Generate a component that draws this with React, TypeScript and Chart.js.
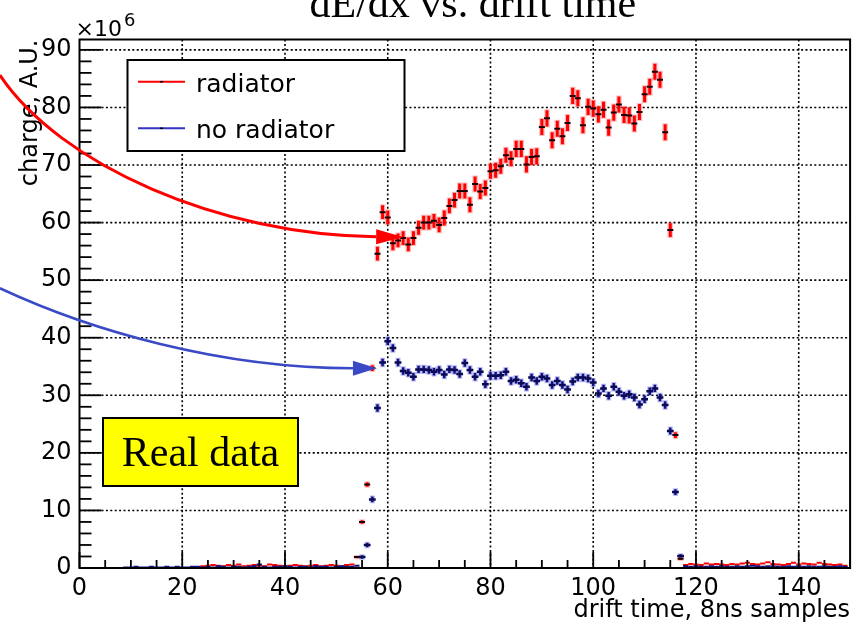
import React, { useEffect, useRef } from "react";
import { Chart, registerables } from "chart.js";

Chart.register(...registerables);

// ---- text ----
const TITLE = "dE/dx vs. drift time";
const X_TITLE = "drift time, 8ns samples";
const Y_TITLE = "charge, A.U.";
const Y_EXPONENT_BASE = "\u00d710";
const Y_EXPONENT = "6";
const BOX_TEXT = "Real data";
const SERIES_NAMES = ["radiator", "no radiator"];

// ---- axes ----
const X_MIN = 0;
const X_MAX = 150;
const Y_MIN = 0;
const Y_MAX = 91.8;
const xTicks = [0, 20, 40, 60, 80, 100, 120, 140];
const yTicks = [0, 10, 20, 30, 40, 50, 60, 70, 80, 90];
const X_MINOR_STEP = 5;
const Y_MINOR_STEP = 2;

// ---- radiator (charge x 10^6 per 8 ns sample) ----
const radiatorLowStart = 24;
const radiatorLow = [
  0.3, 0.4, 0.5, 0.4, 0.3, 0.5, 0.4, 0.6, 0.3, 0.4, 0.5, 0.4, 0.3, 0.6, 0.5,
  0.4, 0.3, 0.4, 0.5, 0.4, 0.3, 0.4, 0.5, 0.3, 0.4, 0.5, 0.4, 0.3, 0.5, 0.6,
];
const radiatorPeakStart = 54;
const radiatorPeak = [
  1.9, 8.0, 14.5, 34.7, 54.6, 61.8, 60.9, 56.4, 56.9, 57.3, 56.2, 57.3, 59.1,
  60.0, 60.0, 60.3, 59.6, 60.8, 62.9, 63.9, 65.5, 65.5, 63.1, 66.7, 65.4, 66.0,
  68.9, 69.1, 69.8, 71.7, 71.1, 72.8, 72.8, 70.1, 71.4, 71.5, 76.6, 78.1, 74.3,
  76.3, 75.0, 77.3, 82.0, 81.6, 76.9, 80.1, 79.8, 78.8, 79.6, 76.5, 79.1, 80.5,
  78.7, 78.6, 77.2, 79.2, 82.3, 83.6, 86.2, 84.8, 75.7, 58.7, 23.1, 1.6,
];
const radiatorPeakErr = [
  0.2, 0.3, 0.4, 0.5, 1.2, 1.2, 1.2, 1.2, 1.2, 1.2, 1.2, 1.2, 1.2, 1.2, 1.2,
  1.2, 1.3, 1.3, 1.3, 1.3, 1.3, 1.3, 1.3, 1.3, 1.3, 1.3, 1.3, 1.3, 1.3, 1.3,
  1.3, 1.4, 1.4, 1.4, 1.4, 1.4, 1.4, 1.4, 1.4, 1.4, 1.4, 1.4, 1.4, 1.4, 1.4,
  1.4, 1.4, 1.4, 1.4, 1.4, 1.4, 1.4, 1.4, 1.4, 1.4, 1.4, 1.4, 1.4, 1.4, 1.4,
  1.4, 1.2, 0.5, 0.2,
];
const radiatorTailStart = 118;
const radiatorTail = [
  0.5, 0.7, 0.6, 0.5, 0.8, 0.6, 0.7, 0.6, 0.5, 0.7, 0.6, 0.8, 0.9, 0.7, 0.6,
  0.8, 1.0, 0.7, 0.6, 0.5, 0.7, 0.9, 0.6, 0.8, 0.7, 0.6, 0.9, 0.7, 0.6, 0.5,
  0.6, 0.4,
];

// ---- no radiator ----
const noRadiatorLowStart = 9;
const noRadiatorLow = [
  0.1, 0.1, 0.2, 0.1, 0.1, 0.2, 0.1, 0.1, 0.2, 0.1, 0.2, 0.1, 0.1, 0.2, 0.2,
  0.1, 0.2, 0.1, 0.3, 0.2, 0.1, 0.2, 0.2, 0.1, 0.2, 0.3, 0.6, 0.2, 0.1, 0.2,
  0.2, 0.3, 0.2, 0.1, 0.2, 0.2, 0.1, 0.3, 0.2, 0.2, 0.1, 0.2, 0.3, 0.2, 0.2,
  0.4,
];
const noRadiatorPeakStart = 55;
const noRadiatorPeak = [
  1.9, 4.0, 11.9, 27.8, 35.7, 39.4, 38.2, 35.7, 34.2, 33.9, 33.2, 34.5, 34.5,
  34.4, 34.1, 34.4, 33.6, 34.5, 34.4, 33.7, 35.6, 34.4, 33.2, 34.1, 31.9, 33.4,
  33.4, 33.5, 34.1, 32.5, 32.7, 32.1, 31.5, 33.1, 32.5, 33.2, 32.9, 31.8, 32.5,
  31.8, 31.0, 32.4, 33.1, 33.1, 32.9, 32.2, 30.3, 31.2, 29.9, 31.5, 30.6, 29.9,
  30.2, 29.6, 28.4, 29.3, 30.7, 31.2, 29.6, 28.3, 23.8, 13.2, 2.1,
];
const noRadiatorPeakErr = [
  0.3, 0.4, 0.5, 0.65, 0.65, 0.65, 0.65, 0.65, 0.65, 0.65, 0.65, 0.65, 0.65,
  0.65, 0.65, 0.65, 0.65, 0.65, 0.65, 0.65, 0.65, 0.65, 0.65, 0.65, 0.65, 0.65,
  0.65, 0.65, 0.65, 0.65, 0.65, 0.65, 0.65, 0.65, 0.65, 0.65, 0.65, 0.65, 0.65,
  0.65, 0.65, 0.65, 0.65, 0.65, 0.65, 0.65, 0.65, 0.65, 0.65, 0.65, 0.65, 0.65,
  0.65, 0.65, 0.65, 0.65, 0.65, 0.65, 0.65, 0.65, 0.6, 0.5, 0.3,
];
const noRadiatorTailStart = 118;
const noRadiatorTail = [
  0.3, 0.2, 0.3, 0.2, 0.2, 0.3, 0.2, 0.3, 0.2, 0.2, 0.3, 0.2, 0.3, 0.4, 0.3,
  0.2, 0.3, 0.3, 0.2, 0.2, 0.3, 0.2, 0.3, 0.2, 0.3, 0.2, 0.2, 0.3, 0.2, 0.2,
  0.3, 0.2,
];

// ---- annotation arrows (cubic curves in axis units) ----
const redArrow = [
  [-15.5, 85.6],
  [-3.8, 70.0],
  [27.3, 57.8],
  [63.0, 57.5],
];
const blueArrow = [
  [-15.5, 48.6],
  [2.0, 41.3],
  [27.3, 34.7],
  [57.9, 34.7],
];

// ---- style ----
const SANS = '"DejaVu Sans", "Liberation Sans", sans-serif';
const SERIF = '"Liberation Serif", "Times New Roman", serif';
const RED = "#ff0000";
const NAVY = "#12127e";
const LEGEND_BLUE = "#3434c4";
const ARROW_BLUE = "#3a4ac6";

function bins(start: number, values: number[], errors?: number[]) {
  return values.map((v, i) => ({ x: start + i, y: v, e: errors ? errors[i] : 0 }));
}

const errorBarsPlugin = {
  id: "errorBars",
  beforeDatasetsDraw(chart: any) {
    const { ctx, chartArea: a, scales } = chart;
    const xs = scales.x;
    const ys = scales.y;
    ctx.save();
    ctx.beginPath();
    ctx.rect(a.left, a.top, a.right - a.left, a.bottom - a.top);
    ctx.clip();
    chart.data.datasets.forEach((ds: any) => {
      if (!ds.errorColor) return;
      const passes = [
        { color: ds.errorHalo, width: ds.errorWidth + 2.5, ext: 1 },
        { color: ds.errorColor, width: ds.errorWidth, ext: 0 },
      ];
      passes.forEach((p) => {
        ctx.strokeStyle = p.color;
        ctx.lineWidth = p.width;
        ds.data.forEach((pt: any) => {
          if (!pt.e) return;
          const px = xs.getPixelForValue(pt.x);
          ctx.beginPath();
          ctx.moveTo(px, ys.getPixelForValue(pt.y - pt.e) + p.ext);
          ctx.lineTo(px, ys.getPixelForValue(pt.y + pt.e) - p.ext);
          ctx.stroke();
        });
      });
    });
    ctx.restore();
  },
};

const framePlugin = {
  id: "frame",
  beforeDatasetsDraw(chart: any) {
    const { ctx, chartArea: a, scales } = chart;
    ctx.save();
    ctx.strokeStyle = "#000";
    ctx.lineWidth = 1.6;
    ctx.setLineDash([2, 2.4]);
    xTicks.forEach((v) => {
      if (v === X_MIN) return;
      const px = scales.x.getPixelForValue(v);
      ctx.beginPath();
      ctx.moveTo(px, a.top);
      ctx.lineTo(px, a.bottom);
      ctx.stroke();
    });
    yTicks.forEach((v) => {
      if (v === Y_MIN) return;
      const py = scales.y.getPixelForValue(v);
      ctx.beginPath();
      ctx.moveTo(a.left, py);
      ctx.lineTo(a.right, py);
      ctx.stroke();
    });
    ctx.restore();
  },
  afterDatasetsDraw(chart: any) {
    const { ctx, chartArea: a, scales } = chart;
    ctx.save();
    ctx.strokeStyle = "#000";
    ctx.lineWidth = 1.8;
    // inward tick marks on the left and bottom axes
    for (let v = X_MIN; v <= X_MAX; v += X_MINOR_STEP) {
      const px = scales.x.getPixelForValue(v);
      const len = xTicks.includes(v) ? 16 : 8;
      ctx.beginPath();
      ctx.moveTo(px, a.bottom);
      ctx.lineTo(px, a.bottom - len);
      ctx.stroke();
    }
    for (let v = Y_MIN; v <= Y_MAX; v += Y_MINOR_STEP) {
      const py = scales.y.getPixelForValue(v);
      const len = yTicks.includes(v) ? 22 : 12;
      ctx.beginPath();
      ctx.moveTo(a.left, py);
      ctx.lineTo(a.left + len, py);
      ctx.stroke();
    }
    ctx.lineWidth = 2;
    ctx.strokeRect(a.left, a.top, a.right - a.left, a.bottom - a.top);
    ctx.restore();
  },
};

function arrow(ctx: any, chart: any, pts: number[][], color: string, width: number, headLen: number, headHalf: number) {
  const xs = chart.scales.x;
  const ys = chart.scales.y;
  const p = pts.map(([x, y]) => [xs.getPixelForValue(x), ys.getPixelForValue(y)]);
  const tip = p[3];
  const dx = p[3][0] - p[2][0];
  const dy = p[3][1] - p[2][1];
  const len = Math.hypot(dx, dy);
  const ux = dx / len;
  const uy = dy / len;
  const base = [tip[0] - ux * headLen, tip[1] - uy * headLen];
  ctx.strokeStyle = color;
  ctx.lineWidth = width;
  ctx.beginPath();
  ctx.moveTo(p[0][0], p[0][1]);
  ctx.bezierCurveTo(p[1][0], p[1][1], p[2][0], p[2][1], base[0], base[1]);
  ctx.stroke();
  ctx.fillStyle = color;
  ctx.beginPath();
  ctx.moveTo(tip[0], tip[1]);
  ctx.lineTo(base[0] - uy * headHalf, base[1] + ux * headHalf);
  ctx.lineTo(base[0] + uy * headHalf, base[1] - ux * headHalf);
  ctx.closePath();
  ctx.fill();
}

const decorPlugin = {
  id: "decor",
  afterDraw(chart: any) {
    const { ctx, chartArea: a } = chart;
    ctx.save();

    // title
    ctx.fillStyle = "#000";
    ctx.font = `42px ${SERIF}`;
    ctx.textAlign = "center";
    ctx.textBaseline = "alphabetic";
    ctx.fillText(TITLE, (a.left + a.right) / 2 + 8, 17);

    // y exponent
    ctx.textAlign = "left";
    ctx.font = `22px ${SANS}`;
    ctx.fillText(Y_EXPONENT_BASE, a.left - 4, a.top - 4);
    const w = ctx.measureText(Y_EXPONENT_BASE).width;
    ctx.font = `18px ${SANS}`;
    ctx.fillText(Y_EXPONENT, a.left - 2 + w, a.top - 14);

    // axis titles
    ctx.font = `24px ${SANS}`;
    ctx.textAlign = "right";
    ctx.fillText(X_TITLE, a.right, 617);
    ctx.save();
    ctx.translate(37, a.top);
    ctx.rotate(-Math.PI / 2);
    ctx.fillText(Y_TITLE, 0, 0);
    ctx.restore();

    // legend
    const lx = a.left + 48;
    const ly = a.top + 20.5;
    ctx.fillStyle = "#fff";
    ctx.fillRect(lx, ly, 277, 91);
    ctx.strokeStyle = "#000";
    ctx.lineWidth = 2;
    ctx.strokeRect(lx, ly, 277, 91);
    const entries = [
      { name: SERIES_NAMES[0], color: RED, y: 21.7, base: 31.7 },
      { name: SERIES_NAMES[1], color: LEGEND_BLUE, y: 68.3, base: 78.3 },
    ];
    entries.forEach((en) => {
      ctx.strokeStyle = en.color;
      ctx.lineWidth = 2;
      ctx.beginPath();
      ctx.moveTo(lx + 10.5, ly + en.y);
      ctx.lineTo(lx + 57.5, ly + en.y);
      ctx.stroke();
      ctx.strokeStyle = "#000";
      ctx.lineWidth = 1.5;
      ctx.beginPath();
      ctx.moveTo(lx + 32.5, ly + en.y);
      ctx.lineTo(lx + 35.5, ly + en.y);
      ctx.stroke();
      ctx.fillStyle = "#000";
      ctx.font = `25px ${SANS}`;
      ctx.textAlign = "left";
      ctx.fillText(en.name, lx + 68.5, ly + en.base);
    });

    // label box
    const bx = a.left + 23.5;
    const by = a.top + 378.5;
    ctx.fillStyle = "#ffff00";
    ctx.fillRect(bx, by, 195, 68);
    ctx.strokeStyle = "#000";
    ctx.lineWidth = 2;
    ctx.strokeRect(bx, by, 195, 68);
    ctx.fillStyle = "#000";
    ctx.font = `42px ${SERIF}`;
    ctx.textAlign = "center";
    ctx.fillText(BOX_TEXT, bx + 97.5, by + 48);

    // arrows
    arrow(ctx, chart, redArrow, RED, 3, 27, 7.5);
    arrow(ctx, chart, blueArrow, ARROW_BLUE, 2.5, 24, 7.5);

    ctx.restore();
  },
};

export default function App() {
  const canvasRef = useRef<HTMLCanvasElement | null>(null);

  useEffect(() => {
    const canvas = canvasRef.current;
    if (!canvas) return;
    const marker = (color: string, width: number, radius: number) => ({
      showLine: false,
      pointStyle: "line",
      pointRadius: radius,
      pointBorderWidth: width,
      pointBorderColor: color,
      pointBackgroundColor: color,
      pointHoverRadius: radius,
    });
    const chart = new Chart(canvas, {
      type: "scatter",
      data: {
        datasets: [
          {
            label: SERIES_NAMES[1],
            data: [
              ...bins(noRadiatorLowStart, noRadiatorLow),
              ...bins(noRadiatorTailStart, noRadiatorTail),
            ],
            ...marker(NAVY, 2, 2.6),
          } as any,
          {
            label: SERIES_NAMES[1],
            data: bins(noRadiatorPeakStart, noRadiatorPeak, noRadiatorPeakErr),
            errorColor: NAVY,
            errorHalo: "rgba(80,80,230,0.4)",
            errorWidth: 2.5,
            ...marker("#0a0a55", 2.5, 3.4),
          } as any,
          {
            label: SERIES_NAMES[0],
            data: [
              ...bins(radiatorLowStart, radiatorLow),
              ...bins(radiatorTailStart, radiatorTail),
            ],
            ...marker(RED, 2, 2.6),
          } as any,
          {
            label: SERIES_NAMES[0],
            data: bins(radiatorPeakStart, radiatorPeak, radiatorPeakErr),
            errorColor: RED,
            errorHalo: "rgba(255,90,90,0.4)",
            errorWidth: 3,
            ...marker("#1a0000", 2, 3),
          } as any,
        ],
      },
      options: {
        responsive: false,
        animation: false,
        events: [],
        layout: { padding: { top: 39.5, right: 3.5, left: 0, bottom: 0 } },
        plugins: {
          legend: { display: false },
          tooltip: { enabled: false },
          title: { display: false },
        },
        scales: {
          x: {
            type: "linear",
            min: X_MIN,
            max: X_MAX,
            afterBuildTicks: (s: any) => {
              s.ticks = xTicks.map((v) => ({ value: v }));
            },
            afterFit: (s: any) => {
              s.height = 59;
            },
            grid: { display: false, drawTicks: false },
            border: { display: false },
            ticks: {
              color: "#000",
              font: { family: SANS, size: 24 },
              padding: 6,
              maxRotation: 0,
              autoSkip: false,
            },
          },
          y: {
            type: "linear",
            min: Y_MIN,
            max: Y_MAX,
            afterBuildTicks: (s: any) => {
              s.ticks = yTicks.map((v) => ({ value: v }));
            },
            afterFit: (s: any) => {
              s.width = 79.5;
            },
            grid: { display: false, drawTicks: false },
            border: { display: false },
            ticks: {
              color: "#000",
              font: { family: SANS, size: 24 },
              padding: 8,
              autoSkip: false,
            },
          },
        },
      },
      plugins: [framePlugin, errorBarsPlugin, decorPlugin],
    } as any);
    return () => chart.destroy();
  }, []);

  return (
    <div style={{ position: "absolute", left: 0, top: 0, width: 856, height: 627, background: "#fff" }}>
      <canvas ref={canvasRef} width={856} height={627} style={{ display: "block" }} />
    </div>
  );
}
